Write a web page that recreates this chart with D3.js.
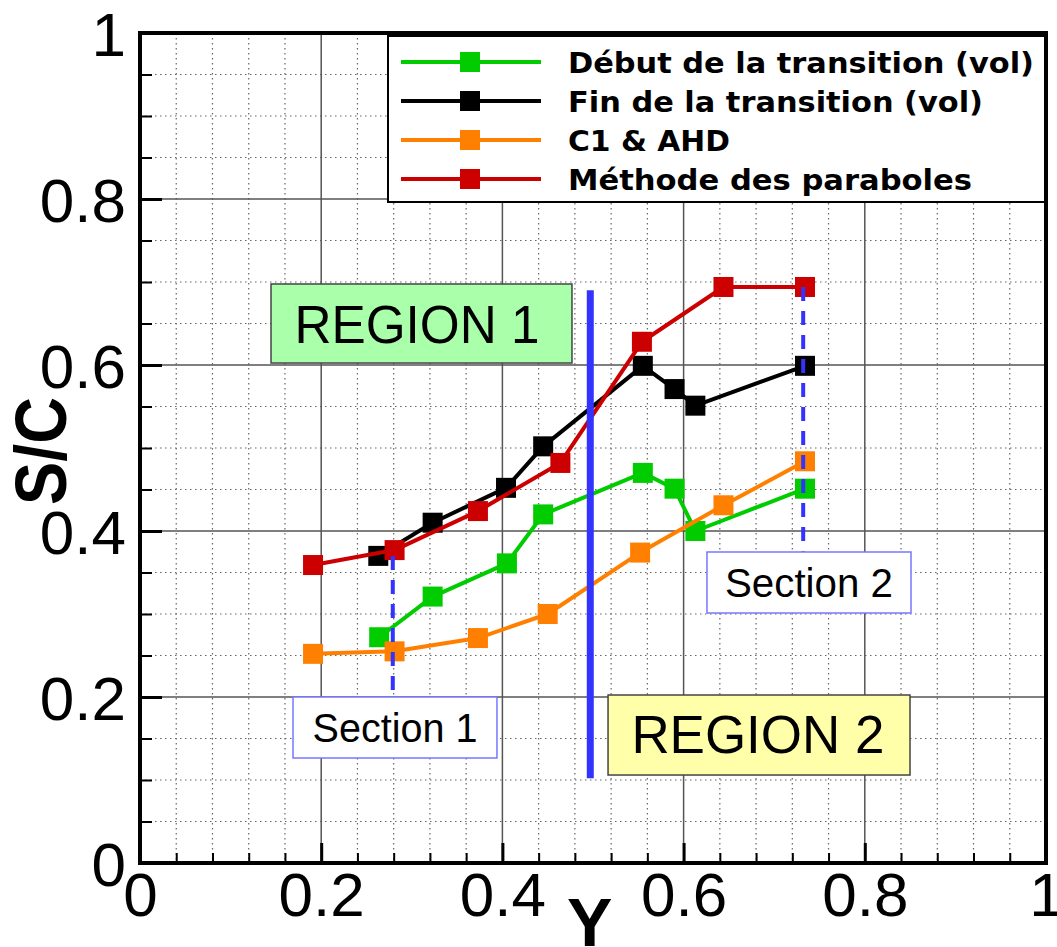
<!DOCTYPE html>
<html><head><meta charset="utf-8">
<script src="https://cdn.jsdelivr.net/npm/d3@7"></script>
<style>
html,body{margin:0;padding:0;background:#fff;}
svg{display:block;}
</style></head>
<body>
<svg id="chart" width="1057" height="947"></svg>
<script>
// ---- data ----
const seriesNames = ["Début de la transition (vol)", "Fin de la transition (vol)", "C1 & AHD", "Méthode des paraboles"];
const seriesColors = ["#00cc00", "#000000", "#ff8000", "#cc0000"];
const debutX = [0.264, 0.323, 0.405, 0.445, 0.555, 0.590, 0.613, 0.734];
const debutY = [0.272, 0.321, 0.361, 0.420, 0.470, 0.451, 0.400, 0.451];
const finX = [0.263, 0.323, 0.404, 0.445, 0.555, 0.590, 0.613, 0.734];
const finY = [0.370, 0.410, 0.452, 0.502, 0.599, 0.571, 0.551, 0.599];
const c1X = [0.191, 0.281, 0.373, 0.450, 0.552, 0.644, 0.734];
const c1Y = [0.252, 0.255, 0.271, 0.300, 0.374, 0.431, 0.484];
const paraX = [0.191, 0.281, 0.373, 0.464, 0.554, 0.644, 0.734];
const paraY = [0.359, 0.377, 0.424, 0.482, 0.628, 0.694, 0.694];
const xTickValues = [0, 0.2, 0.4, 0.6, 0.8, 1];
const xTickLabels = ["0", "0.2", "0.4", "0.6", "0.8", "1"];
const yTickValues = [0, 0.2, 0.4, 0.6, 0.8, 1];
const yTickLabels = ["0", "0.2", "0.4", "0.6", "0.8", "1"];
const xTitle = "Y";
const yTitle = "S/C";
// region / section annotations (data units)
const regionBoundaryX = 0.497, regionBoundaryY = [0.102, 0.690];
const section1X = 0.279, section1Y = [0.200, 0.370];
const section2X = 0.732, section2Y = [0.375, 0.694];
const boxLabels = ["REGION 1", "REGION 2", "Section 1", "Section 2"];
const boxX0 = [0.1446, 0.5166, 0.1689, 0.6258];
const boxX1 = [0.4768, 0.8499, 0.3940, 0.8510];
const boxYTop = [0.6976, 0.2024, 0.2000, 0.3747];
const boxYBot = [0.6024, 0.1060, 0.1265, 0.3012];
const boxTextX = [0.3057, 0.6820, 0.2815, 0.7384];
const boxTextY = [0.6265, 0.1325, 0.1458, 0.3205];

// ---- layout ----
const L = 140, R = 1046, T = 33, B = 863;
const svg = d3.select("#chart");
const x = d3.scaleLinear().domain([0, 1]).range([L, R]);
const y = d3.scaleLinear().domain([0, 1]).range([B, T]);

const grid = svg.append("g");
const minorX = d3.range(0, 1.0001, 0.04).filter(v => Math.abs(v / 0.2 - Math.round(v / 0.2)) > 1e-6);
const minorY = d3.range(0, 1.0001, 0.05).filter(v => Math.abs(v / 0.2 - Math.round(v / 0.2)) > 1e-6);
grid.selectAll(".mx").data(minorX).join("line")
  .attr("x1", d => x(d)).attr("x2", d => x(d)).attr("y1", T).attr("y2", B)
  .attr("stroke", "#666").attr("stroke-width", 1.2).attr("stroke-dasharray", "1.5,3.5");
grid.selectAll(".my").data(minorY).join("line")
  .attr("y1", d => y(d)).attr("y2", d => y(d)).attr("x1", L).attr("x2", R)
  .attr("stroke", "#666").attr("stroke-width", 1.2).attr("stroke-dasharray", "1.5,3.5");
grid.selectAll(".Mx").data(xTickValues.slice(1, -1)).join("line")
  .attr("x1", d => x(d)).attr("x2", d => x(d)).attr("y1", T).attr("y2", B)
  .attr("stroke", "#555").attr("stroke-width", 1.5);
grid.selectAll(".My").data(yTickValues.slice(1, -1)).join("line")
  .attr("y1", d => y(d)).attr("y2", d => y(d)).attr("x1", L).attr("x2", R)
  .attr("stroke", "#555").attr("stroke-width", 1.5);

// minor ticks
svg.append("g").attr("transform", `translate(${L},0)`)
  .call(d3.axisLeft(y).tickValues(minorY).tickSize(-12).tickFormat(""))
  .call(g => g.select(".domain").remove())
  .selectAll("line").attr("stroke", "#000").attr("stroke-width", 2);
svg.append("g").attr("transform", `translate(0,${B})`)
  .call(d3.axisBottom(x).tickValues(minorX).tickSize(-10).tickFormat(""))
  .call(g => g.select(".domain").remove())
  .selectAll("line").attr("stroke", "#000").attr("stroke-width", 2);

// major axes
const yAxis = svg.append("g").attr("transform", `translate(${L},0)`)
  .call(d3.axisLeft(y).tickValues(yTickValues).tickSize(-22).tickPadding(14)
    .tickFormat((d, i) => yTickLabels[i]));
yAxis.select(".domain").remove();
yAxis.selectAll("line").attr("stroke", "#000").attr("stroke-width", 3);
yAxis.selectAll("text").attr("font-family", "'Liberation Sans', Arial, sans-serif")
  .attr("font-size", 62).attr("fill", "#000").attr("dy", "0.36em");

const xAxis = svg.append("g").attr("transform", `translate(0,${B})`)
  .call(d3.axisBottom(x).tickValues(xTickValues).tickSize(-20).tickPadding(9)
    .tickFormat((d, i) => xTickLabels[i]));
xAxis.select(".domain").remove();
xAxis.selectAll("line").attr("stroke", "#000").attr("stroke-width", 3);
xAxis.selectAll("text").attr("font-family", "'Liberation Sans', Arial, sans-serif")
  .attr("font-size", 62).attr("fill", "#000");

// frame
svg.append("rect").attr("x", L).attr("y", T).attr("width", R - L).attr("height", B - T)
  .attr("fill", "none").attr("stroke", "#000").attr("stroke-width", 4);

// series
const series = [
  {name: seriesNames[0], color: seriesColors[0], xs: debutX, ys: debutY},
  {name: seriesNames[1], color: seriesColors[1], xs: finX, ys: finY},
  {name: seriesNames[2], color: seriesColors[2], xs: c1X, ys: c1Y},
  {name: seriesNames[3], color: seriesColors[3], xs: paraX, ys: paraY}
];
const line = d3.line().x(d => x(d[0])).y(d => y(d[1]));
const S = 20;
series.forEach(s => {
  const pts = s.xs.map((v, i) => [v, s.ys[i]]);
  const g = svg.append("g");
  g.append("path").attr("d", line(pts)).attr("fill", "none")
    .attr("stroke", s.color).attr("stroke-width", 4).attr("stroke-linejoin", "round");
  g.selectAll("rect").data(pts).join("rect")
    .attr("x", d => x(d[0]) - S / 2).attr("y", d => y(d[1]) - S / 2)
    .attr("width", S).attr("height", S).attr("fill", s.color);
});

// region boundary and section lines
const blue = "#3333ff";
svg.append("line").attr("x1", x(regionBoundaryX)).attr("x2", x(regionBoundaryX))
  .attr("y1", y(regionBoundaryY[0])).attr("y2", y(regionBoundaryY[1]))
  .attr("stroke", blue).attr("stroke-width", 7);
[[section1X, section1Y], [section2X, section2Y]].forEach(([sx, sy]) => {
  svg.append("line").attr("x1", x(sx)).attr("x2", x(sx))
    .attr("y1", y(sy[1])).attr("y2", y(sy[0]))
    .attr("stroke", blue).attr("stroke-width", 4).attr("stroke-dasharray", "14,10");
});

// annotation boxes
const boxFill = ["#aaffaa", "#ffffaa", "#ffffff", "#ffffff"];
const boxStroke = ["#444", "#444", "#7777ff", "#7777ff"];
const boxFont = [53, 53, 40, 40];
const boxTextLen = [245, 253, 165, 168];
boxLabels.forEach((lab, i) => {
  svg.append("rect").attr("x", x(boxX0[i])).attr("y", y(boxYTop[i]))
    .attr("width", x(boxX1[i]) - x(boxX0[i])).attr("height", y(boxYBot[i]) - y(boxYTop[i]))
    .attr("fill", boxFill[i]).attr("stroke", boxStroke[i]).attr("stroke-width", 1.5);
  svg.append("text").attr("x", x(boxTextX[i])).attr("y", y(boxTextY[i]))
    .attr("text-anchor", "middle").attr("font-family", "'Liberation Sans', Arial, sans-serif")
    .attr("font-size", boxFont[i]).attr("fill", "#000")
    .attr("textLength", boxTextLen[i]).attr("lengthAdjust", "spacingAndGlyphs")
    .text(lab);
});

// legend
const leg = svg.append("g");
leg.append("rect").attr("x", 388).attr("y", 36).attr("width", 657).attr("height", 166)
  .attr("fill", "#fff").attr("stroke", "#000").attr("stroke-width", 2);
const legLens = [466, 415, 162, 404];
series.forEach((s, i) => {
  const cy = 62 + i * 39;
  leg.append("line").attr("x1", 401).attr("x2", 541).attr("y1", cy).attr("y2", cy)
    .attr("stroke", s.color).attr("stroke-width", 4);
  leg.append("rect").attr("x", 470 - S / 2).attr("y", cy - S / 2).attr("width", S).attr("height", S)
    .attr("fill", s.color);
  leg.append("text").attr("x", 568).attr("y", cy + 11)
    .attr("font-family", "'DejaVu Sans', Verdana, sans-serif").attr("font-weight", "bold")
    .attr("font-size", 28).attr("fill", "#000")
    .attr("textLength", legLens[i]).attr("lengthAdjust", "spacingAndGlyphs")
    .text(s.name);
});

// axis titles
svg.append("text").attr("x", x(0.4963)).attr("y", 946)
  .attr("text-anchor", "middle").attr("font-family", "'Liberation Sans', Arial, sans-serif")
  .attr("font-weight", "bold").attr("font-size", 68).attr("fill", "#000").text(xTitle);
svg.append("text").attr("transform", "translate(66,451) rotate(-90)")
  .attr("text-anchor", "middle").attr("font-family", "'Liberation Sans', Arial, sans-serif")
  .attr("font-weight", "bold").attr("font-size", 72).attr("fill", "#000")
  .attr("textLength", 108).attr("lengthAdjust", "spacingAndGlyphs").text(yTitle);
</script>
</body></html>
